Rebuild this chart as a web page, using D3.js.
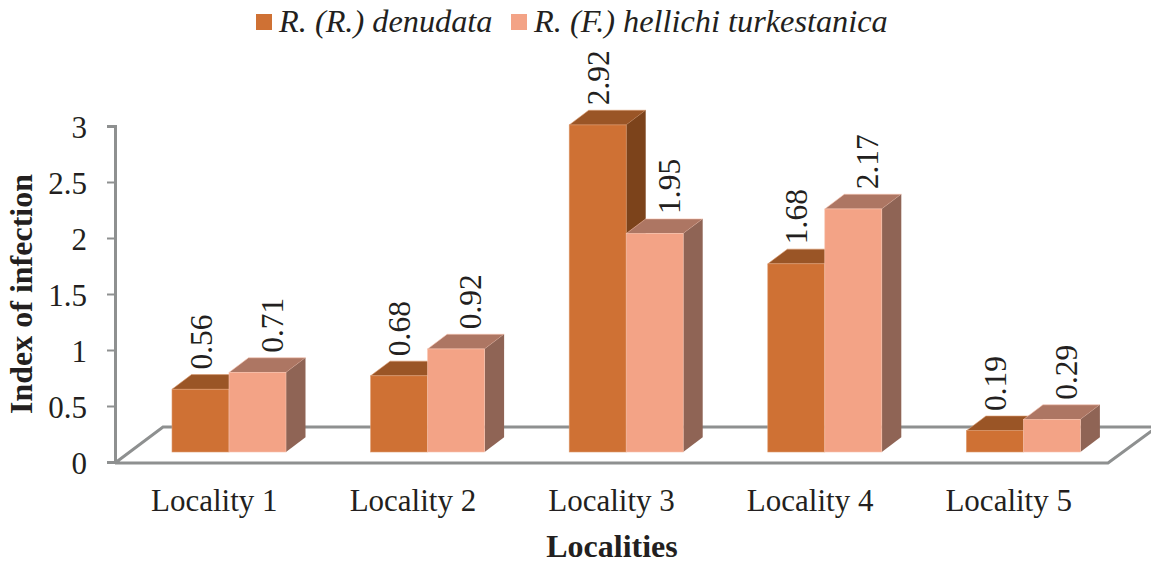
<!DOCTYPE html>
<html>
<head>
<meta charset="utf-8">
<script src="https://cdn.jsdelivr.net/npm/d3@7"></script>
<style>
html, body { margin: 0; padding: 0; background: #fff; }
svg { display: block; }
text { font-family: "Liberation Serif", serif; fill: #231f20; }
</style>
</head>
<body>
<script>
const localities = ["Locality 1", "Locality 2", "Locality 3", "Locality 4", "Locality 5"];
const seriesNames = ["R. (R.) denudata", "R. (F.) hellichi turkestanica"];
const denudata = [0.56, 0.68, 2.92, 1.68, 0.19];
const turkestanica = [0.71, 0.92, 1.95, 2.17, 0.29];
const yTicks = [0, 0.5, 1, 1.5, 2, 2.5, 3];

const width = 1151;
const height = 564;

// one colour set per series: front, top, side
const colors = [
    { front: "#cf7134", top: "#9a5526", side: "#7c431b", edge: "#dc9a6e" },
    { front: "#f3a386", top: "#ad7663", side: "#8f6455", edge: "#f8c3ae" }
];

const x = d3.scaleBand().domain(localities).range([115, 1108]);
const y = d3.scaleLinear().domain([0, 3]).range([462, 126]);

const barW = 57;
const depthX = 19.5;
const depthY = -14.7;
const baseLift = 10;   // bars stand a bit behind the front edge of the floor
const barShift = 14.7;

const svg = d3.select("body").append("svg")
    .attr("width", width)
    .attr("height", height)
    .attr("viewBox", [0, 0, width, height]);

// floor and wall
const axisColor = "#8e9090";
svg.append("path")
    .attr("d", d3.line()([[115, 463], [1108, 463], [1157, 427], [163, 427], [115, 463]]))
    .attr("fill", "none")
    .attr("stroke", axisColor)
    .attr("stroke-width", 3);

// axes
const yAxis = svg.append("g")
    .attr("transform", "translate(115,0)")
    .call(d3.axisLeft(y).tickValues(yTicks).tickSize(8).tickPadding(20).tickFormat(d3.format("~g")));
yAxis.select(".domain").attr("stroke", axisColor).attr("stroke-width", 3);
yAxis.selectAll("line").attr("stroke", axisColor).attr("stroke-width", 2);
yAxis.selectAll("text")
    .style("font-family", '"Liberation Serif", serif')
    .style("font-size", "31px")
    .attr("dy", "0.36em")
    .attr("fill", "#231f20");

const xAxis = svg.append("g")
    .attr("transform", "translate(0,462)")
    .call(d3.axisBottom(x).tickSize(0).tickPadding(27));
xAxis.select(".domain").remove();
xAxis.selectAll("text")
    .style("font-family", '"Liberation Serif", serif')
    .style("font-size", "31px")
    .attr("fill", "#231f20");

// bars, first series first so the second one overlaps it
[denudata, turkestanica].forEach(function (values, s) {
    const c = colors[s];
    const g = svg.append("g").selectAll("g")
        .data(values)
        .join("g");

    const left = (d, i) => x(localities[i]) + x.bandwidth() / 2 + barShift + (s - 1) * barW;
    const top = d => y(d) - baseLift;
    const bottom = y(0) - baseLift;

    g.append("path")
        .attr("fill", c.top)
        .attr("stroke", c.edge)
        .attr("stroke-width", 0.6)
        .attr("d", (d, i) => d3.line()([
            [left(d, i), top(d)],
            [left(d, i) + depthX, top(d) + depthY],
            [left(d, i) + barW + depthX, top(d) + depthY],
            [left(d, i) + barW, top(d)]
        ]) + "Z");

    g.append("path")
        .attr("fill", c.side)
        .attr("d", (d, i) => d3.line()([
            [left(d, i) + barW, top(d)],
            [left(d, i) + barW + depthX, top(d) + depthY],
            [left(d, i) + barW + depthX, bottom + depthY],
            [left(d, i) + barW, bottom]
        ]) + "Z");

    g.append("rect")
        .attr("x", (d, i) => left(d, i))
        .attr("y", d => top(d))
        .attr("width", barW)
        .attr("height", d => bottom - top(d))
        .attr("fill", c.front)
        .attr("stroke", c.edge)
        .attr("stroke-width", 0.6);

    // value labels
    g.append("text")
        .attr("transform", (d, i) => {
            const lx = left(d, i) + barW / 2 + (s === 0 ? 1 : 15) + 10;
            const ly = top(d) + depthY - 5;
            return `translate(${lx},${ly}) rotate(-90)`;
        })
        .style("font-size", "31.5px")
        .text(d => d3.format(".2f")(d));
});

// axis titles
svg.append("text")
    .attr("transform", "translate(32,294) rotate(-90)")
    .attr("text-anchor", "middle")
    .style("font-size", "32px")
    .style("font-weight", "bold")
    .text("Index of infection");

svg.append("text")
    .attr("x", 612)
    .attr("y", 557)
    .attr("text-anchor", "middle")
    .style("font-size", "32px")
    .style("font-weight", "bold")
    .text("Localities");

// legend
const legendX = [256, 511];
const legend = svg.append("g").selectAll("g")
    .data(seriesNames)
    .join("g")
    .attr("transform", (d, i) => `translate(${legendX[i]},14)`);
legend.append("rect")
    .attr("width", 16)
    .attr("height", 16)
    .attr("fill", (d, i) => colors[i].front);
legend.append("text")
    .attr("x", 23)
    .attr("y", 18)
    .style("font-size", "32.3px")
    .style("font-style", "italic")
    .text(d => d);
</script>
</body>
</html>
